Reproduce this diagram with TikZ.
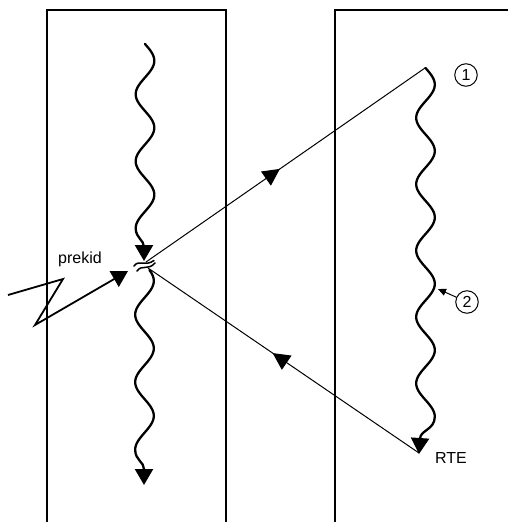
\documentclass[tikz,border=0pt]{standalone}
\usepackage{fontspec}
\setmainfont{Liberation Sans}
\usetikzlibrary{arrows.meta,decorations.markings}

\begin{document}
\begin{tikzpicture}[x=1pt,y=-1pt,
  wall/.style={line width=1.8pt},
  wave/.style={line width=2.3pt,line cap=round},
  ray/.style={line width=1pt},
  bolt/.style={line width=1.8pt,line join=miter},
  bigtip/.style={-{Triangle[length=16pt,width=18pt]}},
  midtip/.style={postaction={decorate,decoration={markings,
      mark=at position #1 with {\arrow{Triangle[length=17pt,width=17pt]}}}}},
  badge/.style={circle,draw,line width=1pt,minimum size=22.5pt,inner sep=0pt,
      font=\fontsize{16}{16}\selectfont},
  label/.style={font=\fontsize{16}{16}\selectfont,inner sep=0pt}
]
\useasboundingbox (0,0) rectangle (507,522);

% the two slabs
\draw[wall] (47,523) -- (47,10) -- (226,10) -- (226,523);
\draw[wall] (335,523) -- (335,10) -- (508,10);

% key points
\coordinate (jnA) at (146,262);
\coordinate (jnB) at (148,268);
\coordinate (src) at (425,68);
\coordinate (rte) at (419,453);
\coordinate (hit) at (128,271);
\coordinate (bulge) at (438,289);

% wavy path through the left slab, upper part (period 67)
\draw[wave,bigtip] plot[domain=44:228.25,samples=120,smooth,variable=\t]
  ({145+9.3*sin(5.3731*(\t-44))},\t)
  .. controls (135.7,238) and (144,240) .. (144,247) -- (144,261);

% small crossing at the junction
\draw[wave,line width=1.5pt] (134,266) .. controls (139,259) and (145,267) .. (154,260.5);
\draw[wave,line width=1.5pt] (137,271) .. controls (142,264) and (148,271) .. (155,263);

% wavy path through the left slab, lower part (period 67.5)
\draw[wave,bigtip] plot[domain=270:450,samples=120,smooth,variable=\t]
  ({144.5+9.3*sin(5.3333*(\t-264))},\t)
  .. controls (135.2,460) and (144,462) .. (144,469) -- (144,485);

% wavy path in the right slab (period 66.4)
\draw[wave,bigtip] plot[domain=68:416.6,samples=180,smooth,variable=\t]
  ({425.5+9.3*sin(5.4217*(\t-68))},\t)
  .. controls (434.8,430) and (420,430) .. (420,439) -- (419,454);

% rays between the slabs
\draw[ray,midtip=0.48] (jnA) -- (src);
\draw[ray,midtip=0.54] (rte) -- (jnB);

% incoming break
\draw[bolt,bigtip] (8,295) -- (63,279) -- (35,325) -- (hit);
\node[label] (brk) at (80,259) {prekid};

% markers
\node[badge] (m1) at (466,75) {1};
\node[badge] (m2) at (467,302) {2};
\draw[ray,-{Triangle[length=8pt,width=7pt]}] (m2) -- (bulge);
\node[label] (end) at (451,458) {RTE};
\end{tikzpicture}
\end{document}
